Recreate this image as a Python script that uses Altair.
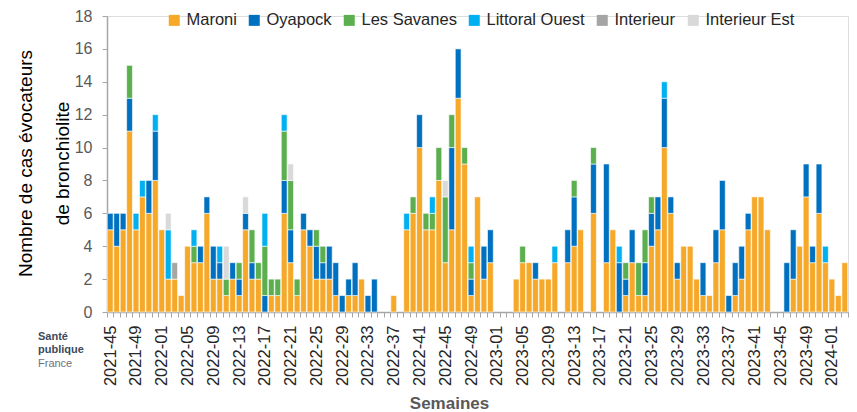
import json
import altair as alt
import pandas as pd

# ---- categories -------------------------------------------------------
weeks = ([f"2021-{w:02d}" for w in range(45, 53)]
         + [f"2022-{w:02d}" for w in range(1, 53)]
         + [f"2023-{w:02d}" for w in range(1, 53)]
         + [f"2024-{w:02d}" for w in range(1, 4)])
shown_labels = weeks[::4]

regions = ["Maroni", "Oyapock", "Les Savanes", "Littoral Ouest", "Interieur", "Interieur Est"]
colors = ["#F6A829", "#0070C0", "#5BAF4F", "#00B0F0", "#A5A5A5", "#D9D9D9"]

# ---- series values (one per week) -------------------------------------
maroni = [5, 4, 5, 11, 5, 7, 6, 8, 5, 2,
          2, 1, 4, 3, 3, 6, 2, 2, 1, 2,
          1, 5, 2, 2, 0, 1, 1, 6, 3, 1,
          5, 4, 2, 2, 2, 1, 0, 1, 1, 2,
          0, 0, 0, 0, 1, 0, 5, 6, 10, 5,
          5, 8, 3, 5, 13, 9, 1, 7, 2, 3,
          0, 0, 0, 2, 3, 3, 2, 2, 2, 3,
          0, 3, 4, 5, 0, 6, 0, 3, 5, 0,
          1, 3, 1, 1, 4, 5, 10, 6, 2, 4,
          4, 2, 1, 1, 3, 5, 0, 1, 2, 5,
          7, 7, 5, 0, 0, 0, 2, 4, 7, 3,
          6, 3, 2, 1, 3]
oyapock = [1, 2, 1, 2, 0, 0, 2, 3, 0, 0,
           0, 0, 0, 0, 1, 1, 2, 1, 0, 1,
           1, 1, 1, 0, 1, 0, 0, 2, 2, 0,
           1, 1, 2, 1, 2, 2, 1, 1, 2, 0,
           1, 2, 0, 0, 0, 0, 0, 0, 2, 0,
           0, 0, 0, 5, 3, 0, 1, 0, 2, 2,
           0, 0, 0, 0, 0, 0, 1, 0, 0, 0,
           0, 2, 3, 0, 0, 3, 0, 6, 0, 3,
           1, 2, 0, 2, 2, 2, 3, 1, 1, 0,
           0, 0, 2, 0, 2, 3, 1, 2, 2, 1,
           0, 0, 0, 0, 0, 3, 3, 0, 2, 1,
           3, 0, 0, 0, 0]
savanes = [0, 0, 0, 2, 0, 0, 0, 0, 0, 0,
           0, 0, 0, 1, 0, 0, 0, 0, 1, 0,
           1, 0, 2, 1, 3, 1, 1, 3, 3, 1,
           0, 0, 1, 1, 0, 0, 0, 0, 0, 0,
           0, 0, 0, 0, 0, 0, 0, 1, 0, 1,
           1, 2, 4, 2, 0, 1, 1, 0, 0, 0,
           0, 0, 0, 0, 1, 0, 0, 0, 0, 0,
           0, 0, 1, 0, 0, 1, 0, 0, 0, 0,
           1, 0, 2, 2, 1, 0, 0, 0, 0, 0,
           0, 0, 0, 0, 0, 0, 0, 0, 0, 0,
           0, 0, 0, 0, 0, 0, 0, 0, 0, 0,
           0, 0, 0, 0, 0]
littoral = [0, 0, 0, 0, 1, 1, 0, 1, 0, 3,
            0, 0, 0, 1, 0, 0, 0, 1, 0, 0,
            0, 0, 0, 0, 2, 0, 0, 1, 0, 0,
            0, 0, 0, 0, 0, 0, 0, 0, 0, 0,
            0, 0, 0, 0, 0, 0, 1, 0, 0, 0,
            1, 0, 0, 0, 0, 0, 1, 0, 0, 0,
            0, 0, 0, 0, 0, 0, 0, 0, 0, 1,
            0, 0, 0, 0, 0, 0, 0, 0, 0, 1,
            0, 0, 0, 0, 0, 0, 1, 0, 0, 0,
            0, 0, 0, 0, 0, 0, 0, 0, 0, 0,
            0, 0, 0, 0, 0, 0, 0, 0, 0, 0,
            0, 1, 0, 0, 0]
interieur = [0, 0, 0, 0, 0, 0, 0, 0, 0, 0,
             1, 0, 0, 0, 0, 0, 0, 0, 0, 0] + [0] * 95
interieur_est = [0, 0, 0, 0, 0, 0, 0, 0, 0, 1,
                 0, 0, 0, 0, 0, 0, 0, 0, 2, 0,
                 0, 1, 0, 0, 0, 0, 0, 0, 1, 0,
                 0, 0, 0, 0, 0, 0, 0, 0, 0, 0,
                 0, 0, 0, 0, 0, 0, 0, 0, 0, 0,
                 0, 0, 1, 0, 0, 0, 0, 0, 0, 0] + [0] * 55

series = [maroni, oyapock, savanes, littoral, interieur, interieur_est]

rows = []
for k, (name, vals) in enumerate(zip(regions, series)):
    for w, v in zip(weeks, vals):
        if v > 0:
            rows.append({"week": w, "region": name, "cases": v, "k": k})
df = pd.DataFrame(rows)

FONT = "Liberation Sans"
label_expr = "indexof(" + json.dumps(shown_labels) + ", datum.value) >= 0 ? datum.value : ''"

bars = alt.Chart(df).mark_bar(stroke="white", strokeWidth=0.6).encode(
    x=alt.X("week:N", sort=weeks,
            scale=alt.Scale(domain=weeks, paddingInner=0.1, paddingOuter=0.05),
            axis=alt.Axis(title="Semaines", labelAngle=-90, labelExpr=label_expr,
                          labelOverlap=False, labelFont=FONT, labelFontSize=16.5,
                          labelColor="#262626", labelPadding=8, tickBand="extent",
                          tickSize=5, tickColor="#A6A6A6", domainColor="#A6A6A6",
                          domainWidth=1.5, titleFont=FONT, titleFontSize=17,
                          titleFontWeight="bold", titleColor="#595959",
                          titleX=342, titleY=96, titleBaseline="alphabetic",
                          titleAlign="center", titleAnchor="start")),
    y=alt.Y("cases:Q", stack="zero",
            scale=alt.Scale(domain=[0, 18], nice=False),
            axis=alt.Axis(title=["Nombre de cas évocateurs", "de bronchiolite"],
                          values=list(range(0, 19, 2)), grid=False,
                          labelFont=FONT, labelFontSize=16, labelColor="#595959",
                          labelPadding=10, tickSize=5, tickColor="#A6A6A6",
                          domainColor="#A6A6A6", domainWidth=1.5,
                          titleFont=FONT, titleFontSize=19, titleFontWeight="normal",
                          titleColor="#000000", titleLineHeight=37,
                          titleAngle=-90, titleAlign="center", titleBaseline="middle",
                          titleX=-82, titleY=147)),
    color=alt.Color("region:N",
                    scale=alt.Scale(domain=regions, range=colors),
                    legend=alt.Legend(title=None, orient="none", legendX=59, legendY=-4,
                                      direction="horizontal", symbolType="square",
                                      symbolSize=121, symbolStrokeWidth=0,
                                      labelFont=FONT, labelFontSize=16.5,
                                      labelColor="#262626", columnPadding=9,
                                      labelOffset=4, padding=0)),
    order=alt.Order("k:Q", sort="ascending"),
)

logo_df = pd.DataFrame({"a": [0]})
logo1 = alt.Chart(logo_df).mark_text(align="left", baseline="middle", font=FONT,
                                     fontSize=11, fontWeight="bold", color="#3D4A5C").encode(
    x=alt.value(-69), y=alt.value(321), text=alt.value("Santé"))
logo2 = alt.Chart(logo_df).mark_text(align="left", baseline="middle", font=FONT,
                                     fontSize=11, fontWeight="bold", color="#3D4A5C").encode(
    x=alt.value(-69), y=alt.value(334), text=alt.value("publique"))
logo3 = alt.Chart(logo_df).mark_text(align="left", baseline="middle", font=FONT,
                                     fontSize=11, color="#6B7380").encode(
    x=alt.value(-69), y=alt.value(348), text=alt.value("France"))

chart = alt.layer(bars, logo1, logo2, logo3).properties(
    width=741, height=296,
    autosize=alt.AutoSizeParams(type="none"),
    padding={"left": 99, "top": 8, "right": 1, "bottom": 104},
).configure_view(stroke=None).configure(background="white")

chart.save("out.html", embed_options={"renderer": "svg", "actions": False})
